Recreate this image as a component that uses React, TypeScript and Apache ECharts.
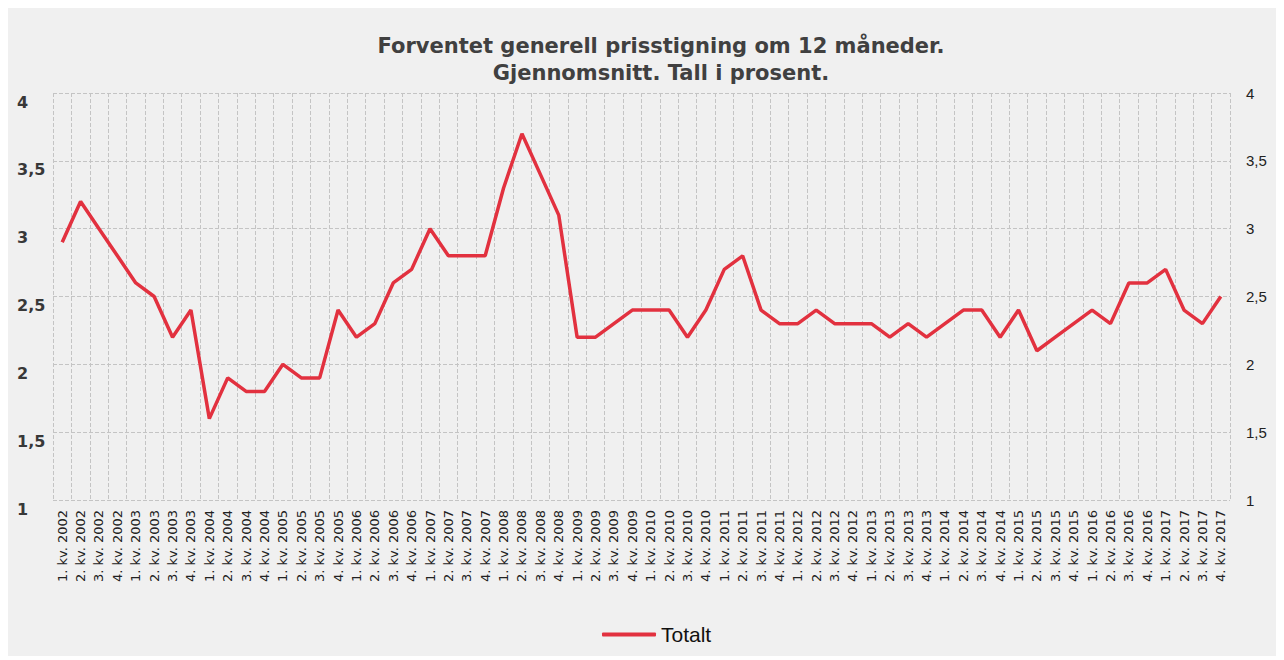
import React, { useEffect, useRef } from "react";
import * as echarts from "echarts";

const years = [2002, 2003, 2004, 2005, 2006, 2007, 2008, 2009, 2010, 2011, 2012, 2013, 2014, 2015, 2016, 2017];
const quarters = ["1", "2", "3", "4"];
const categories: string[] = [];
years.forEach((y) => quarters.forEach((q) => categories.push(`${q}. kv. ${y}`)));

const totalt = [
  2.9, 3.2, 3.0, 2.8,
  2.6, 2.5, 2.2, 2.4,
  1.6, 1.9, 1.8, 1.8,
  2.0, 1.9, 1.9, 2.4,
  2.2, 2.3, 2.6, 2.7,
  3.0, 2.8, 2.8, 2.8,
  3.3, 3.7, 3.4, 3.1,
  2.2, 2.2, 2.3, 2.4,
  2.4, 2.4, 2.2, 2.4,
  2.7, 2.8, 2.4, 2.3,
  2.3, 2.4, 2.3, 2.3,
  2.3, 2.2, 2.3, 2.2,
  2.3, 2.4, 2.4, 2.2,
  2.4, 2.1, 2.2, 2.3,
  2.4, 2.3, 2.6, 2.6,
  2.7, 2.4, 2.3, 2.5,
];

const titleText = "Forventet generell prisstigning om 12 måneder.\nGjennomsnitt. Tall i prosent.";
const seriesName = "Totalt";

export default function App() {
  const ref = useRef<HTMLDivElement>(null);
  useEffect(() => {
    if (!ref.current) return;
    const chart = echarts.init(ref.current, null, { renderer: "svg" });
    const fmt = (v: number) => String(v).replace(".", ",");
    const grid = { type: "dashed" as const, color: "#c4c4c4", width: 1 };
    chart.setOption({
      animation: false,
      backgroundColor: "#f0f0f0",
      title: {
        text: titleText,
        left: 648,
        textAlign: "center",
        top: 19,
        textStyle: {
          fontFamily: "DejaVu Sans",
          fontSize: 21,
          fontWeight: "bold",
          color: "#404040",
          lineHeight: 27,
        },
      },
      legend: {
        top: 611,
        left: 589,
        icon: "roundRect",
        itemWidth: 54,
        itemHeight: 4,
        itemGap: 5,
        textStyle: { fontFamily: "Liberation Sans", fontSize: 21, color: "#111" },
        data: [seriesName],
      },
      grid: { left: 45, right: 46, top: 85, bottom: 156, containLabel: false },
      xAxis: {
        type: "category",
        data: categories,
        boundaryGap: true,
        axisLine: { show: false },
        axisTick: { show: false },
        splitLine: { show: true, lineStyle: grid },
        axisLabel: {
          interval: 0,
          rotate: 90,
          margin: 10,
          fontFamily: "DejaVu Sans",
          fontSize: 13,
          color: "#222",
        },
      },
      yAxis: [
        {
          type: "value",
          min: 1,
          max: 4,
          interval: 0.5,
          position: "left",
          axisLine: { show: false },
          axisTick: { show: false },
          splitLine: { show: true, lineStyle: grid },
          axisLabel: {
            formatter: fmt,
            align: "left",
            verticalAlign: "top",
            padding: [1, 0, 0, 0],
            margin: 36,
            fontFamily: "DejaVu Sans",
            fontSize: 16,
            fontWeight: "bold",
            color: "#383838",
          },
        },
        {
          type: "value",
          min: 1,
          max: 4,
          interval: 0.5,
          position: "right",
          axisLine: { show: false },
          axisTick: { show: false },
          splitLine: { show: false },
          axisLabel: {
            formatter: fmt,
            align: "left",
            margin: 16,
            fontFamily: "Liberation Sans",
            fontSize: 15,
            color: "#222",
          },
        },
      ],
      series: [
        {
          name: seriesName,
          type: "line",
          data: totalt,
          yAxisIndex: 0,
          symbol: "none",
          color: "#e2313f",
          lineStyle: { width: 3.5, color: "#e2313f" },
        },
      ],
    });
    return () => chart.dispose();
  }, []);
  return <div ref={ref} style={{ width: 1268, height: 648 }} />;
}
